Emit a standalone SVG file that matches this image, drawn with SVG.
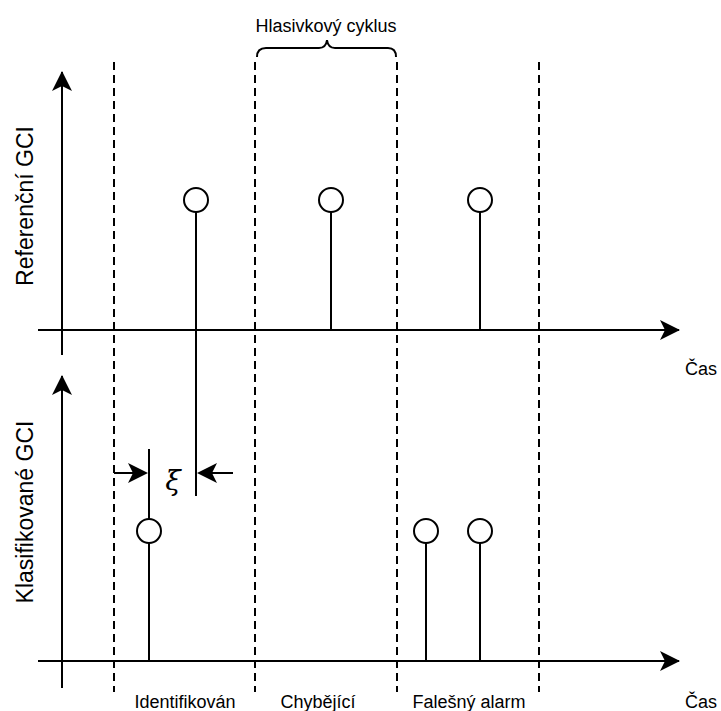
<svg xmlns="http://www.w3.org/2000/svg" width="721" height="711" viewBox="0 0 721 711">
<style>
.ax{stroke:#000;stroke-width:2;fill:none}
.dash{stroke:#000;stroke-width:2;stroke-dasharray:8 5;fill:none}
.st{stroke:#000;stroke-width:2;fill:none}
.c{stroke:#000;stroke-width:2;fill:#fff}
.t{font-family:"Liberation Sans",Arial,sans-serif;font-size:18px;fill:#000}
.yl{font-family:"Liberation Sans",Arial,sans-serif;font-size:23px;fill:#000}
.hd{fill:#000;stroke:none}
</style>
<defs>
<marker id="ah" viewBox="0 0 20 20" refX="19" refY="10" markerWidth="20" markerHeight="20" markerUnits="userSpaceOnUse" orient="auto">
<path d="M0,0 L20,10 L0,20 L5,10 Z" fill="#000"/>
</marker>
</defs>
<g id="connectors">
<line class="ax" x1="62" y1="355" x2="62" y2="72" marker-end="url(#ah)"/>
<line class="ax" x1="38" y1="330" x2="679" y2="330" marker-end="url(#ah)"/>
<line class="ax" x1="62" y1="688" x2="62" y2="376" marker-end="url(#ah)"/>
<line class="ax" x1="38" y1="661" x2="679" y2="661" marker-end="url(#ah)"/>
<line class="dash" x1="114" y1="62" x2="114" y2="692"/>
<line class="dash" x1="255" y1="62" x2="255" y2="692"/>
<line class="dash" x1="397" y1="62" x2="397" y2="692"/>
<line class="dash" x1="539" y1="62" x2="539" y2="692"/>
<line class="st" x1="114" y1="473" x2="135" y2="473"/>
<path class="hd" d="M148,473 L128,463 L133,473 L128,483 Z"/>
<line class="st" x1="233" y1="473" x2="210" y2="473"/>
<path class="hd" d="M197,473 L217,463 L212,473 L217,483 Z"/>
</g>
<g id="brace">
<path class="st" d="M257,57 Q257,48 266,48 L319,48 Q326,48 327,40 Q328,48 335,48 L388,48 Q396,48 396,57"/>
<text class="t" x="326" y="32" text-anchor="middle">Hlasivkový cyklus</text>
</g>
<g id="ref1"><line class="st" x1="196" y1="212" x2="196" y2="496"/><circle class="c" cx="196" cy="200" r="12"/></g>
<g id="ref2"><line class="st" x1="331" y1="212" x2="331" y2="330"/><circle class="c" cx="331" cy="200" r="12"/></g>
<g id="ref3"><line class="st" x1="480" y1="212" x2="480" y2="330"/><circle class="c" cx="480" cy="200" r="12"/></g>
<g id="cls1"><line class="st" x1="149" y1="449" x2="149" y2="661"/><circle class="c" cx="149" cy="531" r="12"/></g>
<g id="cls2"><line class="st" x1="426" y1="543" x2="426" y2="661"/><circle class="c" cx="426" cy="531" r="12"/></g>
<g id="cls3"><line class="st" x1="480" y1="543" x2="480" y2="661"/><circle class="c" cx="480" cy="531" r="12"/></g>
<g id="labels">
<text x="173" y="490" text-anchor="middle" font-family="DejaVu Serif,serif" font-style="italic" font-size="28">ξ</text>
<text class="yl" transform="translate(33,206) rotate(-90)" text-anchor="middle">Referenční GCI</text>
<text class="yl" transform="translate(33,512) rotate(-90)" text-anchor="middle">Klasifikované GCI</text>
<text class="t" x="701" y="375" text-anchor="middle">Čas</text>
<text class="t" x="701" y="708" text-anchor="middle">Čas</text>
<text class="t" x="185" y="708" text-anchor="middle">Identifikován</text>
<text class="t" x="318" y="708" text-anchor="middle">Chybějící</text>
<text class="t" x="469" y="708" text-anchor="middle">Falešný alarm</text>
</g>
</svg>
